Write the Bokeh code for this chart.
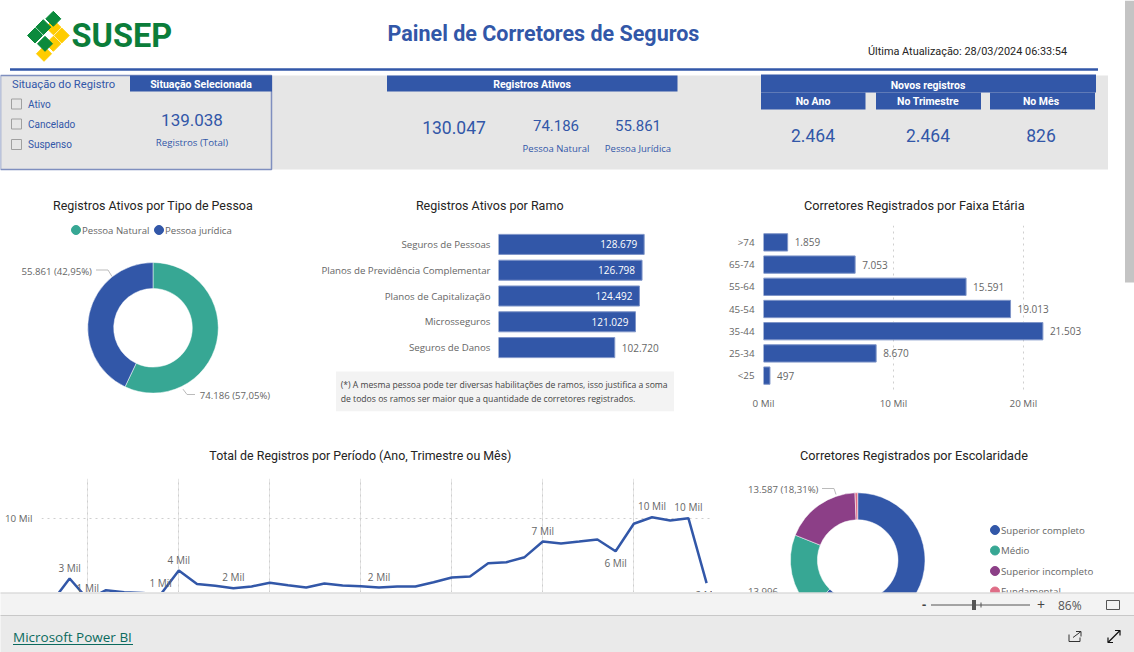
from math import pi
from bokeh.plotting import figure
from bokeh.layouts import column
from bokeh.embed import file_html
from bokeh.resources import INLINE
from bokeh.core.properties import value
from bokeh.models import Range1d, FixedTicker, Grid

# ---- data ----
situacoes = ["Ativo", "Cancelado", "Suspenso"]
total_registros = 139038
ativos_total = 130047
pessoa_labels = ["Pessoa Natural", "Pessoa jurídica"]
pessoa_values = [74186, 55861]
pessoa_pct = ["57,05%", "42,95%"]
novos_labels = ["No Ano", "No Trimestre", "No Mês"]
novos_values = [2464, 2464, 826]
ramo_labels = ["Seguros de Pessoas", "Planos de Previdência Complementar", "Planos de Capitalização",
               "Microsseguros", "Seguros de Danos"]
ramo_values = [128679, 126798, 124492, 121029, 102720]
idade_labels = [">74", "65-74", "55-64", "45-54", "35-44", "25-34", "<25"]
idade_values = [1859, 7053, 15591, 19013, 21503, 8670, 497]
periodo_idx = list(range(-2, 35))
periodo_mil = [0.1, 2.94, 0.5, 1.56, 1.33, 1.24, 1.06, 3.88, 2.29, 2.08, 1.8, 2.0, 2.44, 2.15, 1.88,
               2.35, 2.12, 2.04, 1.88, 2.0, 2.0, 2.5, 3.06, 3.18, 4.74, 4.86, 5.45, 7.29, 7.06, 7.29,
               7.53, 6.15, 9.38, 10.15, 9.76, 10.04, 2.39]
periodo_lab_idx = [-1, 0, 4, 5, 8, 16, 25, 29, 31, 33, 34]
periodo_lab_txt = ["3 Mil", "1 Mil", "1 Mil", "4 Mil", "2 Mil", "2 Mil", "7 Mil", "6 Mil", "10 Mil", "10 Mil", "2 Mil"]
esc_labels = ["Superior completo", "Médio", "Superior incompleto", "Fundamental"]
esc_values = [46148, 13996, 13587, 475]

BLUE = "#3257A8"; TEAL = "#37A794"; PURPLE = "#8C3F87"; PINK = "#DF6D87"
INK = "#252423"; GREY = "#666666"; PANEL = "#E6E6E6"
DIN = "Roboto"; UI = "Open Sans"
PAGE_H = 652
cursor = [PAGE_H]

def br(n):
    return f"{n:,}".replace(",", ".")

def place(p, x, y):
    # children stack one after the other, so each margin is relative to the previous child's bottom
    p.margin = (y - cursor[0], 0, 0, x)
    cursor[0] = y + p.height
    p.frame_align = False
    p.background_fill_color = None
    p.border_fill_color = None
    return p

def txt(p, x, y, s, size, color=GREY, font=UI, align="left", bold=False):
    p.text(x=[x], y=[y], text=[s], text_font=value(font), text_font_size=f"{size}px", text_color=color,
           text_align=align, text_baseline="middle", text_font_style="bold" if bold else "normal")

def rect(p, x0, x1, y0, y1, fill, line=None, w=1):
    p.quad(left=[x0], right=[x1], top=[y0], bottom=[y1], fill_color=fill, line_color=line, line_width=w)

def donut(p, cx, cy, ro, ri, vals, cols):
    tot = sum(vals)
    c = 0
    starts, ends = [], []
    for v in vals:
        ends.append(pi / 2 - c / tot * 2 * pi)
        c += v
        starts.append(pi / 2 - c / tot * 2 * pi)
    p.annular_wedge(x=[cx] * len(vals), y=[cy] * len(vals), inner_radius=ri, outer_radius=ro,
                    inner_radius_units="screen", outer_radius_units="screen",
                    start_angle=starts, end_angle=ends, fill_color=cols, line_color="white", line_width=0.5)

def quiet_axis(ax, standoff=3):
    ax.axis_line_color = None
    ax.major_tick_line_color = None
    ax.minor_tick_line_color = None
    ax.major_label_standoff = standoff
    ax.major_label_text_font = UI
    ax.major_label_text_font_size = "9.8px"
    ax.major_label_text_color = GREY

# ---- page background: header, titles, donuts, Power BI footer (page pixel scale) ----
h = figure(width=1134, height=PAGE_H, x_range=Range1d(0.5, 1134.5), y_range=Range1d(PAGE_H, 0),
           output_backend="svg", toolbar_location=None, x_axis_location=None, y_axis_location=None,
           min_border=0, outline_line_color=None)
h.grid.visible = False
h.frame_align = False
rect(h, 1125, 1135, 0, 282, "#C4C4C4")
for (cx, cy) in [(53.3, 26.7), (61.7, 35), (53.3, 43.3), (44, 53.3)]:
    h.patch([cx - 7.5, cx, cx + 7.5, cx], [cy, cy - 7.5, cy, cy + 7.5], color="#FFCC00")
for (cx, cy) in [(53.3, 18.3), (43.3, 26.7), (35, 35), (45, 43.3)]:
    h.patch([cx - 7.5, cx, cx + 7.5, cx], [cy, cy - 7.5, cy, cy + 7.5], color="#0B8A3C")
txt(h, 71.5, 35, "SUSEP", 32.5, "#0B7D3A", DIN, bold=True)
txt(h, 543.5, 32.5, "Painel de Corretores de Seguros", 21.5, BLUE, DIN, "center", True)
txt(h, 868, 51, "Última Atualização: 28/03/2024 06:33:54", 10.9, INK, DIN)
h.line([10, 1098], [69, 69], line_color=BLUE, line_width=2.5)
rect(h, 272, 1108, 75, 169, PANEL)
rect(h, 0.5, 271.5, 75, 169, PANEL, "#7F8FBF", 1.5)
txt(h, 12, 84, "Situação do Registro", 11.2, BLUE, DIN)
rect(h, 130, 272, 75, 91, BLUE)
txt(h, 201, 83.5, "Situação Selecionada", 10.5, "white", DIN, "center", True)
for i, s in enumerate(situacoes):
    y = [103.5, 123.5, 144][i]
    rect(h, 11.5, 21.5, y - 5, y + 5, None, "#A0A0A0", 1)
    txt(h, 28, y, s, 10, BLUE, DIN)
txt(h, 192, 119, br(total_registros), 17, BLUE, DIN, "center")
txt(h, 192, 142, "Registros (Total)", 9.7, BLUE, UI, "center")
rect(h, 387, 677.5, 75, 91, BLUE)
txt(h, 532, 84, "Registros Ativos", 10.5, "white", DIN, "center", True)
txt(h, 454, 127, br(ativos_total), 17.5, BLUE, DIN, "center")
for cx, v, s in zip([556, 638], pessoa_values, ["Pessoa Natural", "Pessoa Jurídica"]):
    txt(h, cx, 125, br(v), 15, BLUE, DIN, "center")
    txt(h, cx, 148, s, 9.5, BLUE, UI, "center")
rect(h, 761, 1096, 74, 92, BLUE)
txt(h, 928, 85, "Novos registros", 10.5, "white", DIN, "center", True)
for cx, x0, x1, s, v in zip([813, 928, 1041], [761, 876, 990], [865.5, 981, 1095], novos_labels, novos_values):
    rect(h, x0, x1, 92, 109, BLUE)
    txt(h, cx, 101, s, 10.5, "white", DIN, "center", True)
    txt(h, cx, 135, br(v), 17.5, BLUE, DIN, "center")

# tipo de pessoa
txt(h, 153, 205, "Registros Ativos por Tipo de Pessoa", 12.45, INK, DIN, "center")
for x, c, s in zip([76, 159], [TEAL, BLUE], pessoa_labels):
    h.scatter([x], [229.5], size=9, color=c)
    txt(h, x + 6, 229.5, s, 9.6, GREY, UI)
donut(h, 153, 327.3, 65.3, 39.3, pessoa_values, [TEAL, BLUE])
h.line([96, 108, 112], [269.5, 269.5, 276], line_color="#BBBBBB", line_width=1)
h.line([195, 187, 183], [394, 394, 388.7], line_color="#BBBBBB", line_width=1)
txt(h, 21.5, 271, f"{br(pessoa_values[1])} ({pessoa_pct[1]})", 9.6, GREY)
txt(h, 199.7, 394.5, f"{br(pessoa_values[0])} ({pessoa_pct[0]})", 9.6, GREY)

# titles and note of the bar/line charts
txt(h, 489.7, 205, "Registros Ativos por Ramo", 12.5, INK, DIN, "center")
txt(h, 914.3, 205, "Corretores Registrados por Faixa Etária", 12.7, INK, DIN, "center")
txt(h, 360.5, 455, "Total de Registros por Período (Ano, Trimestre ou Mês)", 12.4, INK, DIN, "center")
rect(h, 336, 674, 371, 410.7, "#F3F3F3")
txt(h, 340.7, 384, "(*) A mesma pessoa pode ter diversas habilitações de ramos, isso justifica a soma", 8.65, "#444444", UI)
txt(h, 340.7, 398.7, "de todos os ramos ser maior que a quantidade de corretores registrados.", 8.65, "#444444", UI)

# escolaridade
txt(h, 914, 455, "Corretores Registrados por Escolaridade", 12.7, INK, DIN, "center")
donut(h, 857.7, 559.6, 67.3, 40.3, esc_values, [BLUE, TEAL, PURPLE, PINK])
h.line([822, 834, 836], [488, 488, 494], line_color="#BBBBBB", line_width=1)
txt(h, 748, 489, "13.587 (18,31%)", 9.6, GREY)
txt(h, 748, 591, "13.996", 9.6, GREY)
for yy, c, s in zip([529.5, 550, 570.5, 591], [BLUE, TEAL, PURPLE, PINK], esc_labels):
    h.scatter([995], [yy], size=9, color=c)
    txt(h, 1001, yy, s, 9.7, GREY)

# footer
rect(h, 0, 1135, 592, 615, "#F3F3F3")
rect(h, 0, 1135, 615, 652, "#EAEAEA")
h.line([0, 1135], [592.5, 592.5], line_color="#D0D0D0")
h.line([0, 1135], [615, 615], line_color="#C8C8C8")
txt(h, 924, 604, "-", 13, "#444444", UI, "center", True)
h.line([931, 1030], [604.5, 604.5], line_color="#555555")
rect(h, 972, 976, 599.5, 609.5, "#555555")
h.line([981, 981], [602, 607], line_color="#555555")
txt(h, 1041, 604, "+", 14, "#444444", UI, "center")
txt(h, 1058, 604.5, "86%", 12, "#555555", UI)
rect(h, 1106.5, 1119.5, 600, 609, None, "#555555", 1)
txt(h, 13, 636, "Microsoft Power BI", 13.5, "#0B6A5E", UI)
h.line([13, 133], [644, 644], line_color="#0B6A5E", line_width=1)
h.line([1069, 1069, 1074], [634, 641, 641], line_color="#333333")
h.line([1074, 1080, 1080], [641, 641, 637], line_color="#333333")
h.line([1073, 1081], [637, 631], line_color="#333333")
h.line([1076, 1081, 1081], [631, 631, 636], line_color="#333333")
h.line([1108, 1120], [642, 630], line_color="#111111", line_width=1.2)
h.line([1108, 1108, 1113], [637, 642, 642], line_color="#111111", line_width=1.2)
h.line([1115, 1120, 1120], [630, 630, 635], line_color="#111111", line_width=1.2)

# ---- ramo ----
ramo_y = list(range(len(ramo_labels)))
r = figure(width=400, height=129, x_range=Range1d(0, 201 / 0.001132), y_range=Range1d(len(ramo_labels) - 0.5, -0.5),
           output_backend="svg", toolbar_location=None, x_axis_location=None,
           min_border_left=199, min_border_top=0, min_border_bottom=0, min_border_right=0, outline_line_color=None)
place(r, 299, 231)
r.grid.visible = False
r.yaxis.ticker = FixedTicker(ticks=ramo_y)
r.yaxis.major_label_overrides = dict(zip(ramo_y, ramo_labels))
quiet_axis(r.yaxis, 2)
r.yaxis.major_label_text_font_size = "9.7px"
r.hbar(y=ramo_y, right=ramo_values, left=0, height=0.777, fill_color=BLUE, line_color="#7F95C8", line_width=1)
r.text(x=ramo_values[:4], y=ramo_y[:4], text=[br(v) for v in ramo_values[:4]], x_offset=-7,
       text_font=value(UI), text_font_size="10px", text_color="white", text_align="right", text_baseline="middle")
r.text(x=ramo_values[4:], y=ramo_y[4:], text=[br(v) for v in ramo_values[4:]], x_offset=7,
       text_font=value(UI), text_font_size="10px", text_color=GREY, text_align="left", text_baseline="middle")

# ---- faixa etaria ----
idade_y = list(range(len(idade_labels)))
a = figure(width=420, height=190, x_range=Range1d(0, 357 / 0.012993), y_range=Range1d(6.76, -0.76),
           output_backend="svg", toolbar_location=None,
           min_border_left=63, min_border_top=0, min_border_bottom=23, min_border_right=0, outline_line_color=None)
place(a, 700, 225)
a.ygrid.visible = False
a.xgrid.ticker = FixedTicker(ticks=[0, 10000, 20000])
a.xgrid.grid_line_dash = "dotted"
a.xgrid.grid_line_color = "#CFCFCF"
a.xaxis.ticker = FixedTicker(ticks=[0, 10000, 20000])
a.xaxis.major_label_overrides = {0: "0 Mil", 10000: "10 Mil", 20000: "20 Mil"}
a.yaxis.ticker = FixedTicker(ticks=idade_y)
a.yaxis.major_label_overrides = dict(zip(idade_y, idade_labels))
quiet_axis(a.xaxis, 4)
a.xaxis.major_tick_out = 0
quiet_axis(a.yaxis)
a.hbar(y=idade_y, right=idade_values, left=0, height=0.78, fill_color=BLUE, line_color="#7F95C8", line_width=1)
a.text(x=idade_values, y=idade_y, text=[br(v) for v in idade_values], x_offset=7,
       text_font=value(UI), text_font_size="10px", text_color=GREY, text_align="left", text_baseline="middle")

# ---- periodo ----
k0 = (41 - 87.3) / 18.2
k1 = (712 - 87.3) / 18.2
l = figure(width=712, height=114, x_range=Range1d(k0, k1), y_range=Range1d(11 / 8.5, 125 / 8.5),
           output_backend="svg", toolbar_location=None, x_axis_location=None,
           min_border_left=41, min_border_top=0, min_border_bottom=0, min_border_right=0, outline_line_color=None)
place(l, 0, 478)
l.yaxis.ticker = FixedTicker(ticks=[10])
l.yaxis.major_label_overrides = {10: "10 Mil"}
quiet_axis(l.yaxis)
l.ygrid.grid_line_dash = "dotted"
l.ygrid.grid_line_color = "#CFCFCF"
l.add_layout(Grid(dimension=0, ticker=FixedTicker(ticks=[0, 5, 10, 15, 20, 25, 30]),
                  grid_line_dash="dotted", grid_line_color="#CFCFCF"))
l.line(periodo_idx, periodo_mil, line_color=BLUE, line_width=2.5)
below = {29, 34}
ly = [periodo_mil[periodo_idx.index(i)] for i in periodo_lab_idx]
above_i = [j for j, i in enumerate(periodo_lab_idx) if i not in below]
below_i = [j for j, i in enumerate(periodo_lab_idx) if i in below]
l.text(x=[periodo_lab_idx[j] for j in above_i], y=[ly[j] for j in above_i], text=[periodo_lab_txt[j] for j in above_i],
       y_offset=-11, text_font=value(UI), text_font_size="10px", text_color=GREY, text_align="center", text_baseline="middle")
l.text(x=[periodo_lab_idx[j] for j in below_i], y=[ly[j] for j in below_i], text=[periodo_lab_txt[j] for j in below_i],
       y_offset=12, text_font=value(UI), text_font_size="10px", text_color=GREY, text_align="center", text_baseline="middle")

page = column(h, r, a, l, spacing=0)
open("out.html", "w").write(file_html(page, INLINE))
